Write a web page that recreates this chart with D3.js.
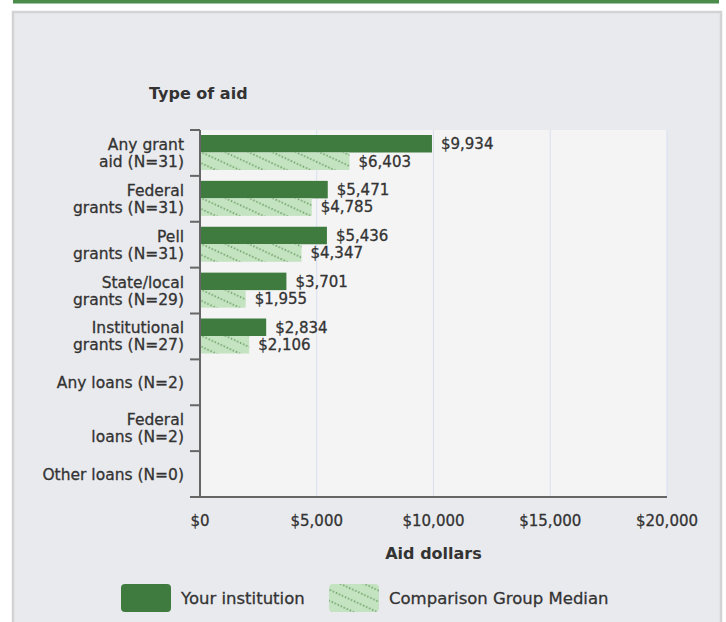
<!DOCTYPE html>
<html>
<head>
<meta charset="utf-8">
<script src="https://cdn.jsdelivr.net/npm/d3@7"></script>
<style>
  body { margin: 0; background: #fff; }
  svg { display: block; font-family: "DejaVu Sans", Verdana, sans-serif; }
  .lbl { stroke: #333; stroke-width: 0.3px; }
</style>
</head>
<body>
<script>
// chart data
var categories = ["Any grant\naid (N=31)", "Federal\ngrants (N=31)", "Pell\ngrants (N=31)",
  "State/local\ngrants (N=29)", "Institutional\ngrants (N=27)", "Any loans (N=2)",
  "Federal\nloans (N=2)", "Other loans (N=0)"];
var institution = [9934, 5471, 5436, 3701, 2834, null, null, null];
var median = [6403, 4785, 4347, 1955, 2106, null, null, null];
var seriesNames = ["Your institution", "Comparison Group Median"];
var xTicks = [0, 5000, 10000, 15000, 20000];

var W = 726, H = 622;
var plot = {left: 200, right: 667, top: 130, bottom: 497};
var dark = "#3f7b3e", light = "#c4e3c0", textColor = "#333";

var svg = d3.select("body").append("svg")
    .attr("width", W)
    .attr("height", H);

// pattern for comparison bars
var defs = svg.append("defs");
var pat = defs.append("pattern")
    .attr("id", "dots")
    .attr("patternUnits", "userSpaceOnUse")
    .attr("width", 10).attr("height", 10)
    .attr("patternTransform", "rotate(25)");
pat.append("rect").attr("width", 10).attr("height", 10).attr("fill", light);
pat.append("line")
    .attr("x1", 0).attr("x2", 10).attr("y1", 5).attr("y2", 5)
    .attr("stroke", "#4f8a4c").attr("stroke-width", 1.4)
    .attr("stroke-dasharray", "1.2,2.1");

// top stripe and panel
svg.append("rect").attr("x", 13).attr("y", 0).attr("width", 706).attr("height", 3.5).attr("fill", "#4b8b4b");
svg.append("rect").attr("x", 13).attr("y", 12).attr("width", 708).attr("height", 620)
    .attr("fill", "#e9eaee").attr("stroke", "#d3d3d5").attr("stroke-width", 2.5);

var x = d3.scaleLinear().domain([0, 20000]).range([plot.left, plot.right]);
var y0 = d3.scaleBand().domain(categories).range([plot.top, plot.bottom]);
var y1 = d3.scaleBand().domain(seriesNames).range([5, 40]);

// plot background
svg.append("rect")
    .attr("x", plot.left).attr("y", plot.top)
    .attr("width", plot.right - plot.left).attr("height", plot.bottom - plot.top)
    .attr("fill", "#f4f4f4");

// gridlines
svg.append("g").selectAll("line")
    .data(xTicks.slice(1))
  .enter().append("line")
    .attr("x1", d => x(d)).attr("x2", d => x(d))
    .attr("y1", plot.top).attr("y2", plot.bottom)
    .attr("stroke", "#d8dff0").attr("stroke-width", 1);

// bars
var rows = categories.map((c, i) => ({cat: c, vals: [institution[i], median[i]]}));
var groups = svg.append("g").selectAll("g")
    .data(rows)
  .enter().append("g")
    .attr("transform", d => "translate(0," + y0(d.cat) + ")");

groups.selectAll("rect")
    .data(d => d.vals.map((v, j) => ({name: seriesNames[j], v: v})).filter(e => e.v != null))
  .enter().append("rect")
    .attr("x", x(0))
    .attr("y", d => y1(d.name))
    .attr("width", d => x(d.v) - x(0))
    .attr("height", y1.bandwidth())
    .attr("fill", d => d.name === seriesNames[0] ? dark : "url(#dots)");

groups.selectAll("text")
    .data(d => d.vals.map((v, j) => ({name: seriesNames[j], v: v})).filter(e => e.v != null))
  .enter().append("text")
    .attr("class", "lbl")
    .attr("x", d => x(d.v) + 9)
    .attr("y", d => y1(d.name) + y1.bandwidth() / 2)
    .attr("dy", "0.35em")
    .attr("font-size", 15)
    .attr("fill", textColor)
    .text(d => d3.format("$,")(d.v));

// y axis
var yAxis = svg.append("g");
yAxis.append("line")
    .attr("x1", plot.left).attr("x2", plot.left)
    .attr("y1", plot.top).attr("y2", plot.bottom)
    .attr("stroke", "#666").attr("stroke-width", 2);
var bounds = categories.map(c => y0(c)).concat([plot.bottom]);
yAxis.selectAll("line.tick")
    .data(bounds)
  .enter().append("line")
    .attr("class", "tick")
    .attr("x1", plot.left - 10).attr("x2", plot.left)
    .attr("y1", d => d).attr("y2", d => d)
    .attr("stroke", "#666").attr("stroke-width", 2);
svg.append("line")
    .attr("x1", plot.left).attr("x2", plot.right)
    .attr("y1", plot.bottom).attr("y2", plot.bottom)
    .attr("stroke", "#666").attr("stroke-width", 2);

var catLabels = yAxis.selectAll("text.cat")
    .data(categories)
  .enter().append("text")
    .attr("class", "cat lbl")
    .attr("text-anchor", "end")
    .attr("font-size", 15.5)
    .attr("fill", textColor)
    .attr("transform", d => "translate(" + (plot.left - 16) + "," + (y0(d) + y0.bandwidth() / 2) + ")");
catLabels.each(function(d) {
  var lines = d.split("\n");
  var t = d3.select(this);
  lines.forEach(function(l, i) {
    t.append("tspan")
      .attr("x", 0)
      .attr("y", (i - (lines.length - 1) / 2) * 17)
      .attr("dy", "0.35em")
      .text(l);
  });
});

// x tick labels
svg.append("g").selectAll("text")
    .data(xTicks)
  .enter().append("text")
    .attr("class", "lbl")
    .attr("x", d => x(d))
    .attr("y", 521)
    .attr("dy", "0.35em")
    .attr("text-anchor", "middle")
    .attr("font-size", 15)
    .attr("fill", textColor)
    .text(d => d3.format("$,")(d));

// titles
svg.append("text")
    .attr("x", 149).attr("y", 93).attr("dy", "0.35em")
    .attr("font-size", 16).attr("font-weight", "bold").attr("fill", textColor)
    .text("Type of aid");
svg.append("text")
    .attr("x", (plot.left + plot.right) / 2).attr("y", 553).attr("dy", "0.35em")
    .attr("text-anchor", "middle")
    .attr("font-size", 16).attr("font-weight", "bold").attr("fill", textColor)
    .text("Aid dollars");

// legend
var legendX = [121, 329];
var legend = svg.append("g").selectAll("g")
    .data(seriesNames)
  .enter().append("g")
    .attr("transform", (d, i) => "translate(" + legendX[i] + ",584)");
legend.append("rect")
    .attr("width", 50).attr("height", 28).attr("rx", 4)
    .attr("fill", (d, i) => i === 0 ? dark : "url(#dots)");
legend.append("text")
    .attr("class", "lbl")
    .attr("x", 60).attr("y", 14).attr("dy", "0.35em")
    .attr("font-size", 16.5).attr("fill", textColor)
    .text(d => d);
</script>
</body>
</html>
